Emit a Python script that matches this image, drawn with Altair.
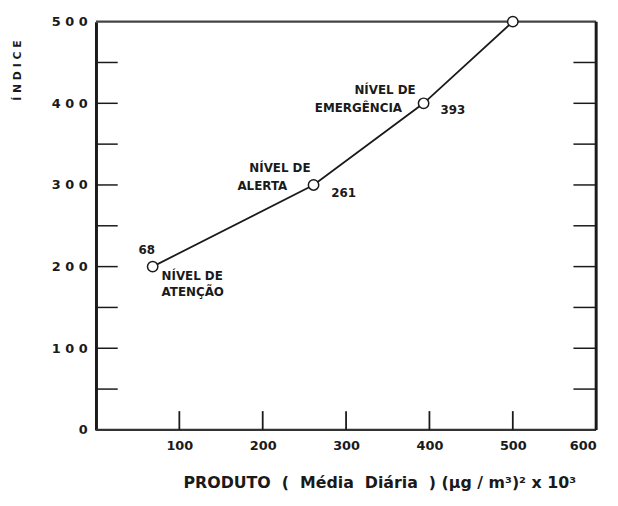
import altair as alt
import pandas as pd

# ---- data ----
produto = [68, 261, 393, 500]
indice = [200, 300, 400, 500]
valor_rotulo = ["68", "261", "393"]

y_ticks_minor = [50, 100, 150, 200, 250, 300, 350, 400, 450]
x_ticks = [100, 200, 300, 400, 500]

NB = "\u00a0"
x_title = ("PRODUTO" + NB * 2 + "(" + NB * 2 + "Média" + NB * 2 + "Diária" + NB * 2 + ")"
           + NB + "(µg" + NB + "/" + NB + "m³)²" + NB + "x" + NB + "10³")
y_title = "Í N D I C E"

W, H = 506, 413
FONT = "DejaVu Sans"
INK = "#1a1a1a"

df = pd.DataFrame({"x": produto, "y": indice})
xs = alt.Scale(domain=[0, 600], nice=False, zero=True)
ys = alt.Scale(domain=[0, 500], nice=False, zero=True)

line = alt.Chart(df).mark_line(color=INK, strokeWidth=1.8, interpolate="linear").encode(
    x=alt.X("x:Q", scale=xs, axis=alt.Axis(
        values=[100, 200, 300, 400, 500, 600], ticks=False, domain=False, grid=False,
        labelFont=FONT, labelFontSize=13, labelFontWeight="bold", labelColor=INK,
        labelPadding=10,
        title=x_title, titleFont=FONT, titleFontSize=16, titleFontWeight="bold",
        titleColor=INK, titleX=88, titleY=58, titleAlign="left", titleBaseline="alphabetic",
        titleAnchor="start")),
    y=alt.Y("y:Q", scale=ys, axis=alt.Axis(
        values=[0, 100, 200, 300, 400, 500], ticks=False, domain=True, domainColor=INK,
        domainWidth=3, grid=False,
        labelFont=FONT, labelFontSize=13, labelFontWeight="bold", labelColor=INK,
        labelPadding=9, labelExpr="join(split(datum.label, ''), ' ')",
        title=y_title, titleFont=FONT, titleFontSize=11, titleFontWeight="bold",
        titleColor=INK, titleAngle=270, titleX=-79, titleY=49, titleAlign="center",
        titleBaseline="middle")),
)

pts = alt.Chart(df).mark_point(shape="circle", size=110, filled=False, color=INK,
                                strokeWidth=1.5, fill="white", fillOpacity=1).encode(
    x=alt.X("x:Q", scale=xs), y=alt.Y("y:Q", scale=ys))

def label(i, text, dx, dy, align="left"):
    d = pd.DataFrame({"x": [produto[i]], "y": [indice[i]], "t": [text]})
    return alt.Chart(d).mark_text(font=FONT, fontSize=12, fontWeight="bold", color=INK,
                                  align=align, baseline="middle", dx=dx, dy=dy).encode(
        x=alt.X("x:Q", scale=xs), y=alt.Y("y:Q", scale=ys), text="t:N")

labels = [
    label(0, valor_rotulo[0], -6, -17, "center"),
    label(0, "NÍVEL DE", 9, 10),
    label(0, "ATENÇÃO", 9, 26),
    label(1, valor_rotulo[1], 18, 8),
    label(1, "NÍVEL DE", -65, -17),
    label(1, "ALERTA", -77, 1),
    label(2, valor_rotulo[2], 17, 7),
    label(2, "NÍVEL DE", -70, -13),
    label(2, "EMERGÊNCIA", -110, 5),
]

dyt = pd.DataFrame({"v": y_ticks_minor})
dxt = pd.DataFrame({"v": x_ticks})
left_ticks = alt.Chart(dyt).mark_rule(color=INK, strokeWidth=1.5).encode(
    y=alt.Y("v:Q", scale=ys), x=alt.value(0), x2=alt.value(22))
right_ticks = alt.Chart(dyt).mark_rule(color=INK, strokeWidth=1.5).encode(
    y=alt.Y("v:Q", scale=ys), x=alt.value(W - 23), x2=alt.value(W))
bottom_ticks = alt.Chart(dxt).mark_rule(color=INK, strokeWidth=1.8).encode(
    x=alt.X("v:Q", scale=xs), y=alt.value(H - 19), y2=alt.value(H))
frame_df = pd.DataFrame({"v": [0]})
right_frame = alt.Chart(frame_df).mark_rule(color=INK, strokeWidth=3).encode(
    x=alt.value(W), y=alt.value(0), y2=alt.value(H))
top_frame = alt.Chart(frame_df).mark_rule(color="#444", strokeWidth=2.2).encode(
    y=alt.value(0), x=alt.value(0), x2=alt.value(W))
bottom_frame = alt.Chart(frame_df).mark_rule(color="#333", strokeWidth=2.2).encode(
    y=alt.value(H), x=alt.value(0), x2=alt.value(W))

chart = alt.layer(
    top_frame, bottom_frame, left_ticks, right_ticks, bottom_ticks, right_frame,
    line, pts, *labels
).properties(
    width=W, height=H, background="white",
    autosize=alt.AutoSizeParams(type="none"),
    padding={"left": 89, "top": 11, "right": 14, "bottom": 60},
).configure_view(stroke=None)

chart.save("out.html", embed_options={"renderer": "svg", "actions": False})
